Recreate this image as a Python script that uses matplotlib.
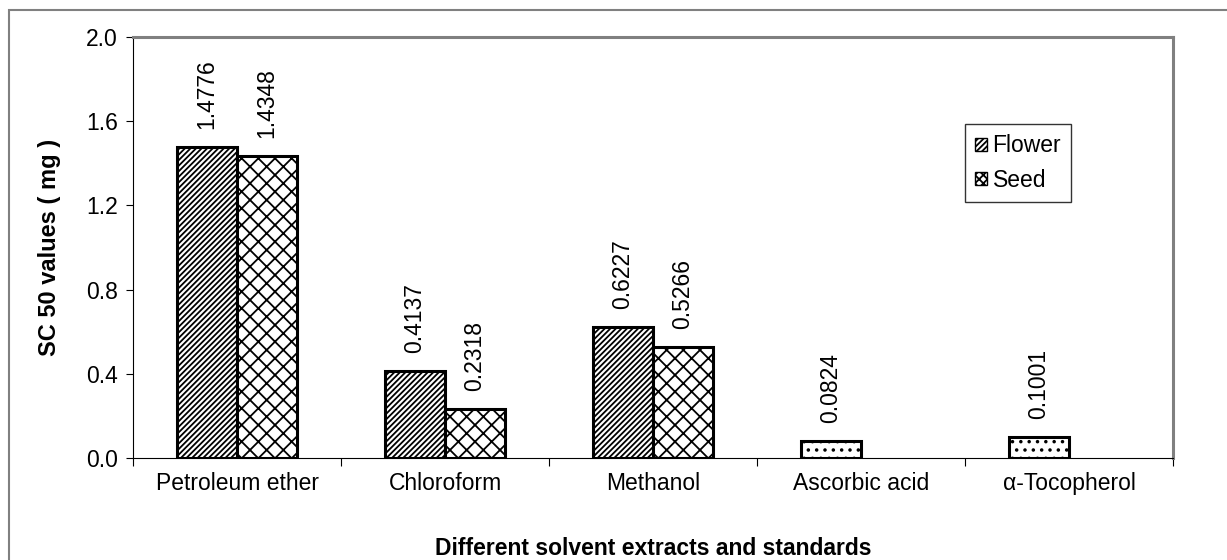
import numpy as np
import matplotlib
matplotlib.use("Agg")
import matplotlib.pyplot as plt
from matplotlib.patches import Rectangle, Patch

plt.rcParams['font.family'] = ['Liberation Sans', 'DejaVu Sans']
plt.rcParams['hatch.linewidth'] = 1.3

categories = ["Petroleum ether", "Chloroform", "Methanol", "Ascorbic acid", "\u03b1-Tocopherol"]
flower = [1.4776, 0.4137, 0.6227, 0.0824, 0.1001]
seed = [1.4348, 0.2318, 0.5266, None, None]
flower_labels = ["1.4776", "0.4137", "0.6227", "0.0824", "0.1001"]
seed_labels = ["1.4348", "0.2318", "0.5266", None, None]

fs = 16.5

fig = plt.figure(figsize=(12.27, 5.6), dpi=100)
ax = fig.add_axes([133/1227, 1 - 458/560, (1173-133)/1227, (458-37)/560])

# outer chart border
fig.patches.append(Rectangle((9/1227, -0.05), 1.1, 1 - 10/560 + 0.05, transform=fig.transFigure,
                             fill=False, edgecolor='#808080', linewidth=1.5))

x = np.arange(len(categories))
w = 0.288

for i, v in enumerate(flower):
    hatch = '//////' if i < 3 else '..'
    ax.bar(x[i] - w/2, v, w, color='white', edgecolor='black', linewidth=2.2, hatch=hatch)
    ax.annotate(flower_labels[i], (x[i] - w/2, v), xytext=(0, 13), textcoords='offset points',
                rotation=90, ha='center', va='bottom', fontsize=fs)

for i, v in enumerate(seed):
    if v is None:
        continue
    ax.bar(x[i] + w/2, v, w, color='white', edgecolor='black', linewidth=2.2, hatch='xx')
    ax.annotate(seed_labels[i], (x[i] + w/2, v), xytext=(0, 13), textcoords='offset points',
                rotation=90, ha='center', va='bottom', fontsize=fs)

ax.set_xlim(-0.5, 4.5)
ax.set_ylim(0, 2.0)
ax.set_yticks([0.0, 0.4, 0.8, 1.2, 1.6, 2.0])
ax.set_yticklabels(["0.0", "0.4", "0.8", "1.2", "1.6", "2.0"], fontsize=fs)
ax.set_xticks(np.arange(-0.5, 5, 1.0))
ax.set_xticklabels([])
ax.set_xticks(x, minor=True)
ax.set_xticklabels(categories, minor=True, fontsize=fs)
ax.tick_params(axis='x', which='minor', length=0, pad=10)
ax.tick_params(axis='x', which='major', length=6, direction='out')
ax.tick_params(axis='y', length=5, direction='out', pad=6)

ax.spines['left'].set_color('black')
ax.spines['bottom'].set_color('black')
ax.spines['top'].set_color('#808080')
ax.spines['right'].set_color('#808080')
ax.spines['top'].set_linewidth(2.2)
ax.spines['right'].set_linewidth(2.2)

ax.set_ylabel("SC 50 values ( mg )", fontsize=fs + 0.5, fontweight='bold', labelpad=18)
ax.set_xlabel("Different solvent extracts and standards", fontsize=fs, fontweight='bold', labelpad=30)

handles = [Patch(facecolor='white', edgecolor='black', hatch='//////', label='Flower'),
           Patch(facecolor='white', edgecolor='black', hatch='xxxx', label='Seed')]
leg = ax.legend(handles=handles, loc='upper left', bbox_to_anchor=((965-133)/1040, 1 - (124-37)/421),
                borderaxespad=0, fontsize=fs, fancybox=False, edgecolor='black',
                handlelength=0.5, handleheight=0.5, handletextpad=0.25, labelspacing=0.5, borderpad=0.45)
leg.get_frame().set_linewidth(1)

fig.savefig("out.png", dpi=100)
